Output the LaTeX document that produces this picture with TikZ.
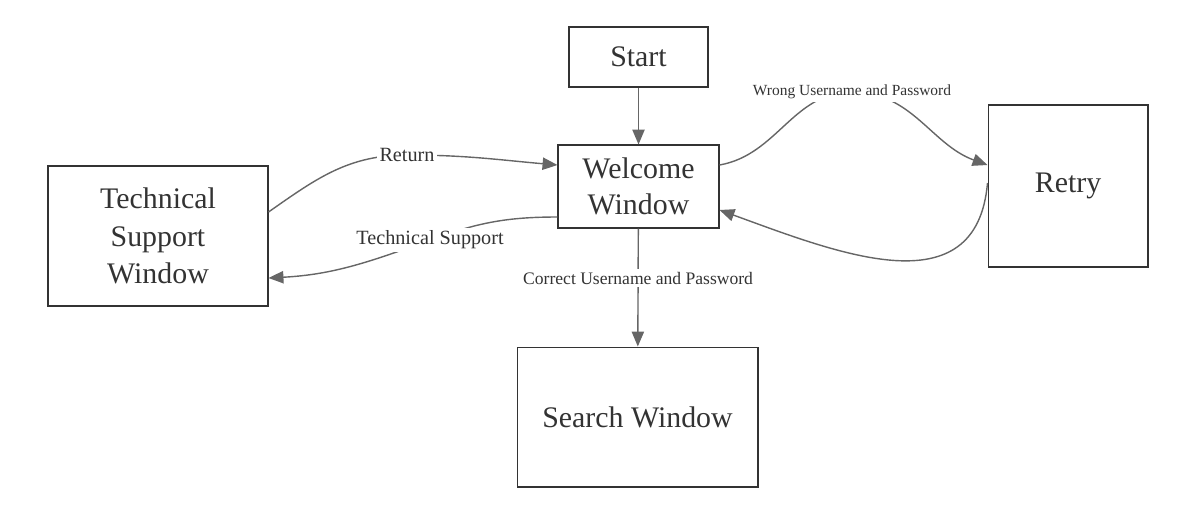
\documentclass[tikz,border=0pt]{standalone}
\usepackage{fontspec}
\setmainfont{Liberation Serif}
\usetikzlibrary{arrows.meta}
\definecolor{linegray}{HTML}{666666}
\definecolor{boxdark}{HTML}{333333}
\begin{document}
\begin{tikzpicture}[x=0.02cm, y=-0.02cm, >={Triangle[length=8.5pt,width=7pt]},
    main/.style = {draw=boxdark, line width=0.6pt, text=boxdark, align=center, font=\fontsize{17}{20.5}\selectfont},
    conn/.style = {->, draw=linegray, line width=0.8pt},
    lbl/.style = {fill=white, text=boxdark, inner sep=1.5pt}]
    \useasboundingbox (0,0) rectangle (1203,529);
    \node[main, minimum width=2.78cm, minimum height=1.2cm] (start) at (638.5,57) {Start};
    \node[main, minimum width=3.22cm, minimum height=1.66cm] (welcome) at (638.5,186.5) {Welcome\\Window};
    \node[main, minimum width=4.4cm, minimum height=2.8cm, font=\fontsize{17}{21.5}\selectfont] (tech) at (158,236) {Technical\\Support\\Window};
    \node[main, minimum width=3.2cm, minimum height=3.24cm] (retry) at (1068,186) {Retry};
    \node[main, minimum width=4.82cm, minimum height=2.8cm] (search) at (637.5,417) {Search Window};
    \coordinate (rettop) at (407,155);
    \coordinate (tstop) at (430,240);
    \coordinate (wrongtop) at (852,92);
    \draw[conn] (start) -- (welcome);
    \draw[conn] (welcome) -- node[lbl, pos=0.42, font=\fontsize{10}{12}\selectfont] (correct) {Correct Username and Password} (search);
    \draw[conn] ([yshift=0.48cm]tech.east) to[out=35, in=180] (rettop) to[out=0, in=175] ([yshift=0.43cm]welcome.west);
    \draw[conn] ([yshift=-0.61cm]welcome.west) to[out=180, in=20] (tstop) to[out=200, in=3] ([yshift=-0.84cm]tech.east);
    \draw[conn] ([yshift=0.43cm]welcome.east) to[out=10, in=180] (wrongtop) to[out=0, in=160] ([yshift=0.42cm]retry.west);
    \draw[conn] ([yshift=0.06cm]retry.west) to[out=265, in=-20, looseness=1.2] ([yshift=-0.47cm]welcome.east);
    \node[lbl, font=\fontsize{11.5}{13}\selectfont] (ret) at (rettop) {Return};
    \node[lbl, font=\fontsize{11.5}{13}\selectfont] (ts) at (tstop) {Technical Support};
    \node[lbl, font=\fontsize{8.8}{10.5}\selectfont] (wrong) at (wrongtop) {Wrong Username and Password};
\end{tikzpicture}
\end{document}
